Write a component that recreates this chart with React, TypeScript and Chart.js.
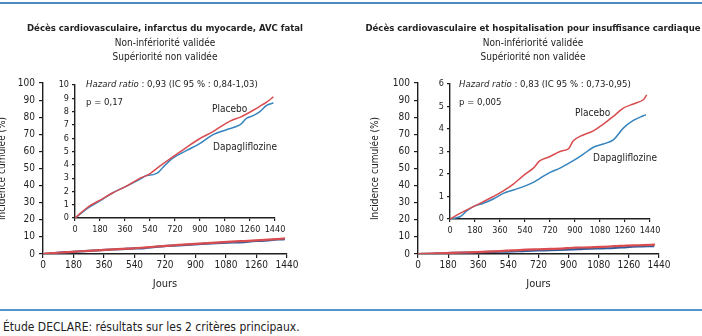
import React, { useEffect, useRef } from "react";
import { Chart, registerables } from "chart.js";

Chart.register(...registerables);

const FONT = "'DejaVu Sans Condensed', 'Liberation Sans Narrow', 'DejaVu Sans', sans-serif";
const RED = "#d94c4f";
const BLUE_INSET = "#3584bd";
const BLUE_MAIN = "#2f5d9c";
const INK = "#222222";
const AXIS = "#1e1e1e";

// ---- tick labels ----
const DAY_TICKS = [0, 180, 360, 540, 720, 900, 1080, 1260, 1440];
const MAIN_Y_TICKS = [0, 10, 20, 30, 40, 50, 60, 70, 80, 90, 100];
const INSET1_Y_TICKS = [0, 1, 2, 3, 4, 5, 6, 7, 8, 9, 10];
const INSET2_Y_TICKS = [0, 1, 2, 3, 4, 5, 6];

// ---- texts ----
const TITLE1 = "Décès cardiovasculaire, infarctus du myocarde, AVC fatal";
const TITLE2 = "Décès cardiovasculaire et hospitalisation pour insuffisance cardiaque";
const SUB1 = "Non-infériorité validée";
const SUB2 = "Supériorité non validée";
const HR1 = " : 0,93 (IC 95 % : 0,84-1,03)";
const HR2 = " : 0,83 (IC 95 % : 0,73-0,95)";
const P1 = "p = 0,17";
const P2 = "p = 0,005";
const X_TITLE = "Jours";
const Y_TITLE = "Incidence cumulée (%)";
const CAPTION = "Étude DECLARE: résultats sur les 2 critères principaux.";

// ---- panel 1 : MACE (cumulative incidence, %) ----
const p1PlaceboDays = [0, 100, 174, 270, 367, 463, 535, 608, 704, 801, 897, 994, 1090, 1138, 1187, 1235, 1283, 1331, 1380, 1428];
const p1Placebo = [0, 0.88, 1.3, 1.88, 2.38, 2.96, 3.3, 3.88, 4.6, 5.3, 5.96, 6.5, 7.14, 7.39, 7.57, 7.82, 8.1, 8.4, 8.72, 9.1];
const p1DapaDays = [0, 100, 174, 270, 367, 463, 516, 564, 600, 632, 704, 801, 897, 994, 1090, 1187, 1235, 1283, 1331, 1380, 1428];
const p1Dapa = [0, 0.8, 1.25, 1.88, 2.38, 2.88, 3.2, 3.26, 3.43, 3.8, 4.5, 5.06, 5.59, 6.27, 6.64, 7.0, 7.5, 7.7, 8.0, 8.47, 8.65];

// ---- panel 2 : CV death / HF hospitalisation ----
const p2PlaceboDays = [0, 72, 168, 240, 312, 384, 456, 528, 600, 648, 720, 792, 852, 888, 936, 1032, 1104, 1176, 1248, 1320, 1392, 1416];
const p2Placebo = [0, 0.25, 0.55, 0.77, 1.0, 1.25, 1.55, 1.93, 2.26, 2.59, 2.78, 3.0, 3.12, 3.48, 3.67, 3.92, 4.22, 4.56, 4.93, 5.11, 5.3, 5.52];
const p2DapaDays = [0, 72, 120, 168, 240, 312, 384, 456, 528, 600, 648, 720, 792, 888, 960, 1032, 1104, 1176, 1248, 1320, 1392, 1411];
const p2Dapa = [0, 0.1, 0.36, 0.55, 0.7, 0.89, 1.14, 1.29, 1.44, 1.63, 1.81, 2.07, 2.26, 2.59, 2.88, 3.19, 3.33, 3.52, 4.04, 4.38, 4.59, 4.63];

type Seg = { t: string; italic?: boolean; bold?: boolean };
type Label = { segs: Seg[]; x: number; y: number; size: number; align?: "left" | "center"; rel?: boolean; color?: string };

const textPlugin = {
  id: "textLabels",
  afterDraw(chart: any, _args: any, opts: any) {
    const items: Label[] = (opts && opts.items) || [];
    const ctx = chart.ctx;
    const ca = chart.chartArea;
    ctx.save();
    ctx.textBaseline = "middle";
    ctx.textAlign = "left";
    for (const it of items) {
      const x0 = it.rel ? ca.left + it.x : it.x;
      const y0 = it.rel ? ca.top + it.y : it.y;
      const fonts = it.segs.map((s) => `${s.italic ? "italic " : ""}${s.bold ? "bold " : ""}${it.size}px ${FONT}`);
      let total = 0;
      const widths = it.segs.map((s, i) => {
        ctx.font = fonts[i];
        const w = ctx.measureText(s.t).width;
        total += w;
        return w;
      });
      let x = it.align === "center" ? x0 - total / 2 : x0;
      ctx.fillStyle = it.color || INK;
      it.segs.forEach((s, i) => {
        ctx.font = fonts[i];
        ctx.fillText(s.t, x, y0);
        x += widths[i];
      });
    }
    ctx.restore();
  },
};

function toPoints(days: number[], vals: number[]) {
  return days.map((d, i) => ({ x: d, y: vals[i] }));
}

function fmt(v: any) {
  return String(v);
}

type CfgOpts = {
  placeboDays: number[];
  placebo: number[];
  dapaDays: number[];
  dapa: number[];
  inset: boolean;
  yTicks: number[];
  yMax: number;
  yWidth: number;
  xHeight: number;
  padding: { left: number; right: number; top: number; bottom: number };
  yTitlePad?: number;
  labels: Label[];
};

function makeConfig(o: CfgOpts): any {
  const tickSize = o.inset ? 9 : 10;
  const tickLen = o.inset ? 3 : 4;
  const lw = o.inset ? 1.5 : 2.2;
  return {
    type: "line",
    data: {
      datasets: [
        {
          label: "Placebo",
          data: toPoints(o.placeboDays, o.placebo),
          borderColor: RED,
          borderWidth: lw,
          pointRadius: 0,
          tension: 0.35,
          fill: false,
        },
        {
          label: "Dapagliflozine",
          data: toPoints(o.dapaDays, o.dapa),
          borderColor: o.inset ? BLUE_INSET : BLUE_MAIN,
          borderWidth: lw,
          pointRadius: 0,
          tension: 0.35,
          fill: false,
        },
      ],
    },
    options: {
      responsive: false,
      animation: false,
      events: [],
      layout: { padding: o.padding },
      plugins: {
        legend: { display: false },
        tooltip: { enabled: false },
        textLabels: { items: o.labels },
      },
      scales: {
        x: {
          type: "linear",
          min: 0,
          max: 1440,
          afterBuildTicks: (s: any) => {
            s.ticks = DAY_TICKS.map((v) => ({ value: v }));
          },
          afterFit: (s: any) => {
            s.height = o.xHeight;
          },
          ticks: {
            autoSkip: false,
            maxRotation: 0,
            padding: o.inset ? 3 : 1,
            color: INK,
            font: { family: FONT, size: tickSize },
            callback: fmt,
          },
          grid: { drawOnChartArea: false, drawTicks: true, tickLength: tickLen, color: AXIS, lineWidth: 1.2 },
          border: { display: true, color: AXIS, width: 1.4 },
          title: o.inset
            ? { display: false }
            : { display: true, text: X_TITLE, color: INK, font: { family: FONT, size: 11 }, padding: { top: 0, bottom: 0 } },
        },
        y: {
          type: "linear",
          min: 0,
          max: o.yMax,
          afterBuildTicks: (s: any) => {
            s.ticks = o.yTicks.map((v) => ({ value: v }));
          },
          afterFit: (s: any) => {
            s.width = o.yWidth;
          },
          ticks: {
            autoSkip: false,
            padding: o.inset ? 3 : 4,
            color: INK,
            font: { family: FONT, size: tickSize },
            callback: fmt,
          },
          grid: { drawOnChartArea: false, drawTicks: true, tickLength: tickLen, color: AXIS, lineWidth: 1.2 },
          border: { display: true, color: AXIS, width: 1.4 },
          title: o.inset
            ? { display: false }
            : {
                display: true,
                text: Y_TITLE,
                color: INK,
                font: { family: FONT, size: 10 },
                padding: { top: o.yTitlePad || 0, bottom: 0 },
              },
        },
      },
    },
    plugins: [textPlugin],
  };
}

function ChartCanvas(props: { left: number; top: number; width: number; height: number; config: () => any }) {
  const ref = useRef<HTMLCanvasElement>(null);
  useEffect(() => {
    const chart = new Chart(ref.current as HTMLCanvasElement, props.config());
    return () => chart.destroy();
  }, []);
  return (
    <canvas
      ref={ref}
      width={props.width}
      height={props.height}
      style={{ position: "absolute", left: props.left, top: props.top, width: props.width, height: props.height }}
    />
  );
}

function titleLabels(title: string, cx: number): Label[] {
  return [
    { segs: [{ t: title, bold: true }], x: cx, y: 29, size: 9.5, align: "center" },
    { segs: [{ t: SUB1 }], x: cx, y: 43, size: 10, align: "center" },
    { segs: [{ t: SUB2 }], x: cx, y: 57, size: 10, align: "center" },
  ];
}

export default function App() {
  const main1 = () =>
    makeConfig({
      placeboDays: p1PlaceboDays,
      placebo: p1Placebo,
      dapaDays: p1DapaDays,
      dapa: p1Dapa,
      inset: false,
      yTicks: MAIN_Y_TICKS,
      yMax: 100,
      yWidth: 53,
      xHeight: 37,
      padding: { left: 0, right: 64, top: 83, bottom: 9 },
      yTitlePad: 6,
      labels: titleLabels(TITLE1, 175),
    });
  const inset1 = () =>
    makeConfig({
      placeboDays: p1PlaceboDays,
      placebo: p1Placebo,
      dapaDays: p1DapaDays,
      dapa: p1Dapa,
      inset: true,
      yTicks: INSET1_Y_TICKS,
      yMax: 10,
      yWidth: 35,
      xHeight: 22,
      padding: { left: 0, right: 15, top: 15, bottom: 0 },
      labels: [
        { segs: [{ t: "Hazard ratio", italic: true }, { t: HR1 }], x: 11, y: 0, size: 9.5, rel: true },
        { segs: [{ t: P1 }], x: 11, y: 18, size: 9.5, rel: true },
        { segs: [{ t: "Placebo" }], x: 137, y: 24, size: 10, rel: true },
        { segs: [{ t: "Dapagliflozine" }], x: 138, y: 62, size: 10, rel: true },
      ],
    });
  const main2 = () =>
    makeConfig({
      placeboDays: p2PlaceboDays,
      placebo: p2Placebo,
      dapaDays: p2DapaDays,
      dapa: p2Dapa,
      inset: false,
      yTicks: MAIN_Y_TICKS,
      yMax: 100,
      yWidth: 67,
      xHeight: 37,
      padding: { left: 0, right: 43, top: 83, bottom: 9 },
      yTitlePad: 18,
      labels: titleLabels(TITLE2, 182),
    });
  const inset2 = () =>
    makeConfig({
      placeboDays: p2PlaceboDays,
      placebo: p2Placebo,
      dapaDays: p2DapaDays,
      dapa: p2Dapa,
      inset: true,
      yTicks: INSET2_Y_TICKS,
      yMax: 6,
      yWidth: 35,
      xHeight: 21,
      padding: { left: 0, right: 25, top: 14, bottom: 0 },
      labels: [
        { segs: [{ t: "Hazard ratio", italic: true }, { t: HR2 }], x: 9, y: 1, size: 9.5, rel: true },
        { segs: [{ t: P2 }], x: 9, y: 19, size: 9.5, rel: true },
        { segs: [{ t: "Placebo" }], x: 125, y: 29, size: 10, rel: true },
        { segs: [{ t: "Dapagliflozine" }], x: 143, y: 74, size: 10, rel: true },
      ],
    });

  return (
    <div
      style={{
        position: "absolute",
        left: 0,
        top: 0,
        width: 702,
        height: 336,
        overflow: "hidden",
        background: "#ffffff",
        fontFamily: FONT,
      }}
    >
      <div style={{ position: "absolute", left: 0, top: 2, width: 702, height: 2, background: "#4d8bbf" }} />
      <ChartCanvas left={-10} top={0} width={361} height={300} config={main1} />
      <ChartCanvas left={351} top={0} width={351} height={300} config={main2} />
      <ChartCanvas left={40} top={70} width={250} height={170} config={inset1} />
      <ChartCanvas left={415} top={70} width={260} height={170} config={inset2} />
      <div style={{ position: "absolute", left: 0, top: 309, width: 702, height: 2, background: "#5796cc" }} />
      <div
        style={{
          position: "absolute",
          left: 3,
          top: 320,
          fontSize: 12,
          lineHeight: "14px",
          color: INK,
          whiteSpace: "nowrap",
        }}
      >
        {CAPTION}
      </div>
    </div>
  );
}
